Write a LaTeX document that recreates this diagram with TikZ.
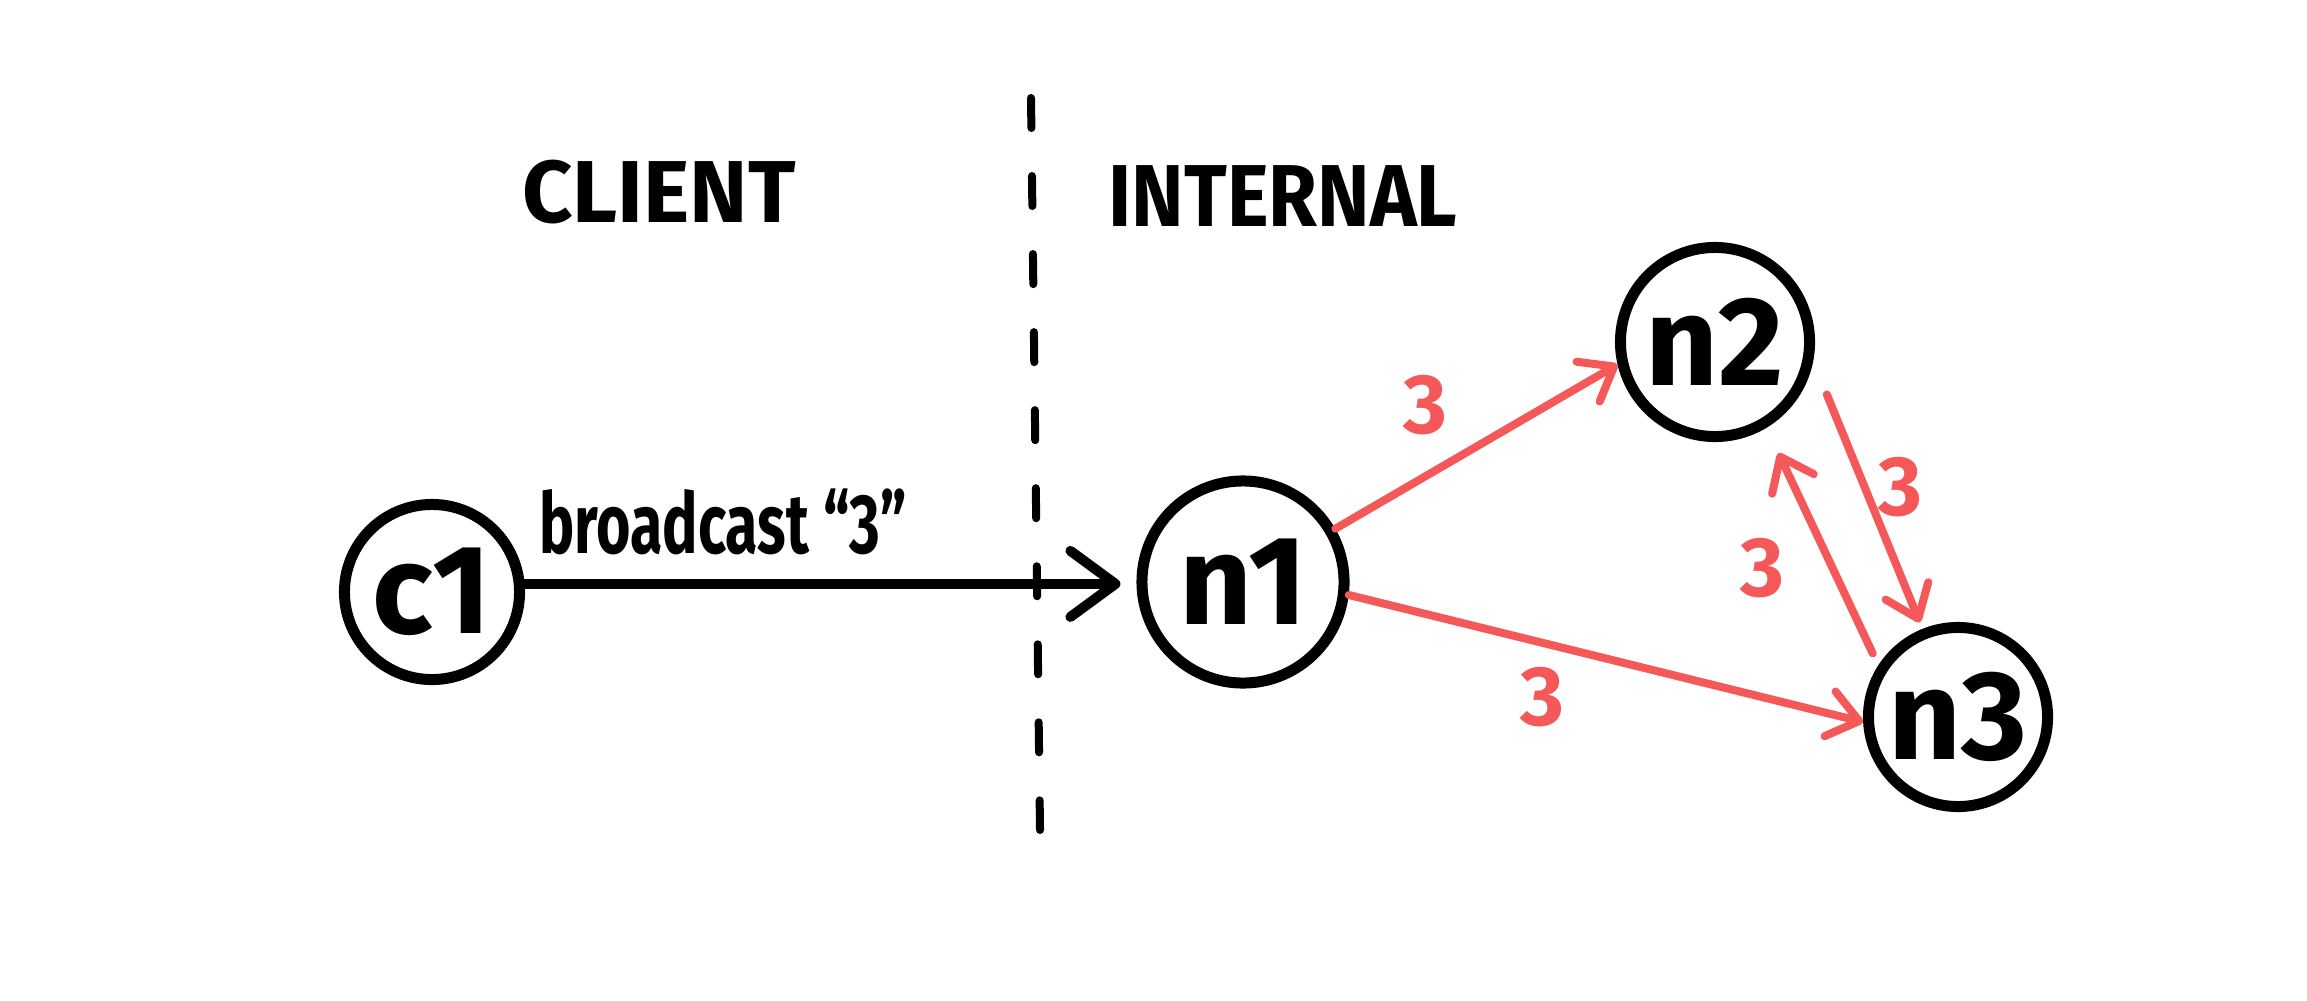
\documentclass[tikz,border=0pt]{standalone}
\usepackage{fontspec}
\setmainfont{Fira Sans}
\usetikzlibrary{arrows.meta,calc}
\definecolor{redc}{RGB}{244,88,88}
\begin{document}
\begin{tikzpicture}[x=0.01cm,y=-0.01cm,
  state/.style={circle,draw=black,line width=1.1mm,minimum size=#1,inner sep=0pt,
    font=\fontsize{36}{40}\selectfont\bfseries},
  side/.style={inner sep=0pt,font=\fontsize{25}{30}\selectfont\bfseries},
  msg/.style={inner sep=0pt,font=\fontsize{24}{28}\selectfont\bfseries},
  redlab/.style={inner sep=0pt,text=redc,font=\fontsize{24}{28}\selectfont\bfseries},
  divider/.style={draw=black,line width=0.8mm,line cap=round,dash pattern=on 3mm off 4.8mm},
  blackarrow/.style={draw=black,line width=1mm,line cap=round,
    -{Straight Barb[length=4.5mm,width=6.6mm,round]}},
  redarrow/.style={draw=redc,line width=0.8mm,line cap=round,
    -{Straight Barb[length=3mm,width=4.6mm,round]}}
]
\useasboundingbox (0,0) rectangle (2307,1000);
\fill[white] (0,0) rectangle (2307,1000);

% region labels and divider
\node[side] (client) at (659,192) {CLIENT};
\node[side] (internal) at (1283,196) {\scalebox{0.9}[1]{INTERNAL}};
\coordinate (dtop) at (1031,98);
\coordinate (dbot) at (1040,830);
\draw[divider] (dtop) -- (dbot);

% nodes
\node[state=17.5mm] (c1) at (432,592) {c1};
\node[state=20.2mm] (n1) at (1243,582) {n1};
\node[state=18.9mm] (n2) at (1715,342) {n2};
\node[state=17.9mm] (n3) at (1958,717) {n3};

% client broadcast
\draw[blackarrow,shorten >=1.6mm] (c1.5) -- (c1.5 -| n1.west);
\node[msg,anchor=base] (bcast) at (723,553) {\scalebox{0.7}[1]{broadcast \textquotedblleft3\textquotedblright}};

% internal messages
\draw[redarrow] (n1.30) -- (n2.193);
\draw[redarrow] (n1.-7) -- (n3.183);
\draw[redarrow,shorten <=3.6mm,shorten >=0.7mm] (n2.-11) -- (n3.112);
\draw[redarrow,shorten <=1.3mm,shorten >=2.8mm] (n3.147) -- (n2.-59);

\node[redlab] (l12) at (1425,405) {3};
\node[redlab] (l13) at (1542,697) {3};
\node[redlab] (l23) at (1900,487) {3};
\node[redlab] (l32) at (1762,568) {3};
\end{tikzpicture}
\end{document}
